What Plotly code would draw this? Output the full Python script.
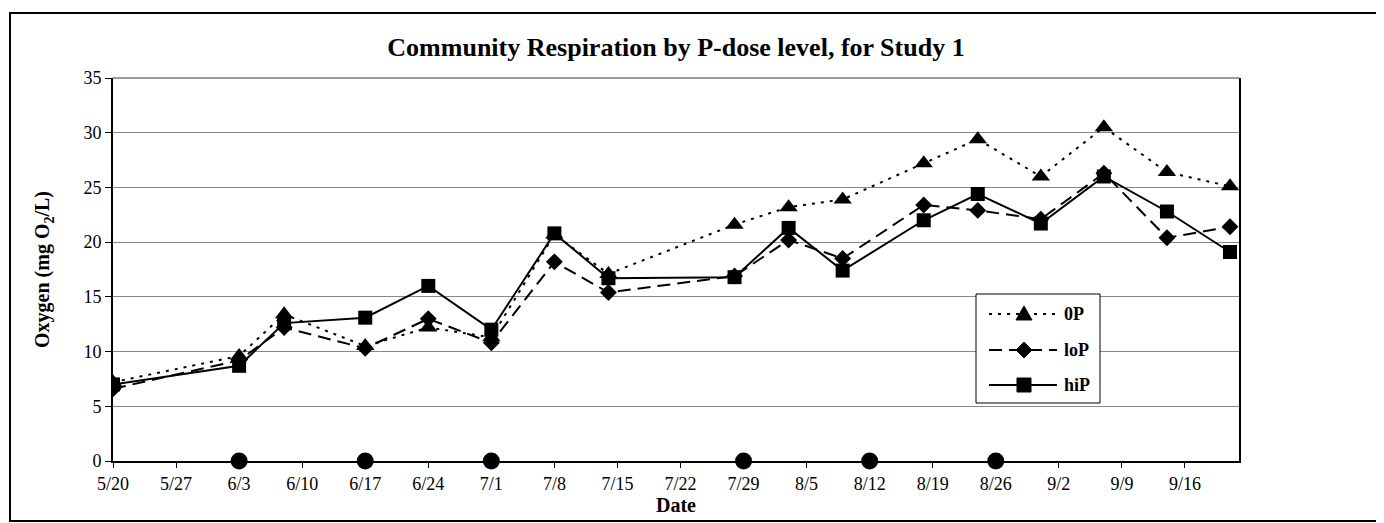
import plotly.graph_objects as go

# ---- data ----
dates = ["2003-05-20", "2003-06-03", "2003-06-08", "2003-06-17", "2003-06-24",
         "2003-07-01", "2003-07-08", "2003-07-14", "2003-07-28", "2003-08-03",
         "2003-08-09", "2003-08-18", "2003-08-24", "2003-08-31", "2003-09-07",
         "2003-09-14", "2003-09-21"]
op_vals = [7.2, 9.6, 13.4, 10.5, 12.2, 11.3, 20.7, 17.1, 21.6, 23.2,
           23.9, 27.2, 29.4, 26.0, 30.5, 26.4, 25.1]
lop_vals = [6.6, 9.2, 12.2, 10.3, 13.0, 10.8, 18.2, 15.4, 16.9, 20.2,
            18.5, 23.4, 22.9, 22.1, 26.3, 20.4, 21.4]
hip_vals = [7.0, 8.7, 12.6, 13.1, 16.0, 12.0, 20.8, 16.7, 16.8, 21.3,
            17.4, 22.0, 24.4, 21.7, 26.0, 22.8, 19.1]
dose_dates = ["2003-06-03", "2003-06-17", "2003-07-01", "2003-07-29",
              "2003-08-12", "2003-08-26"]
dose_vals = [0, 0, 0, 0, 0, 0]
series_names = ["0P", "loP", "hiP"]

title_text = "Community Respiration by P-dose level, for Study 1"
serif = "Liberation Serif, Times New Roman, serif"

OP_DASH = "3px,6px"
LOP_DASH = "13px,7px"

fig = go.Figure()
fig.add_trace(go.Scatter(x=dates, y=op_vals, name=series_names[0], mode="lines+markers",
                         line=dict(color="black", width=2, dash=OP_DASH),
                         marker=dict(symbol="triangle-up", size=16, color="black")))
fig.add_trace(go.Scatter(x=dates, y=lop_vals, name=series_names[1], mode="lines+markers",
                         line=dict(color="black", width=2, dash=LOP_DASH),
                         marker=dict(symbol="diamond", size=13, color="black")))
fig.add_trace(go.Scatter(x=dates, y=hip_vals, name=series_names[2], mode="lines+markers",
                         line=dict(color="black", width=2),
                         marker=dict(symbol="square", size=14, color="black")))
fig.add_trace(go.Scatter(x=dose_dates, y=dose_vals, mode="markers",
                         showlegend=False, cliponaxis=False,
                         marker=dict(symbol="circle", size=17, color="black")))

# page has an 8px body margin, so figure coords = screen coords - 8
OFF = 8
W, H = 1384, 523
L, R, T, B = 113 - OFF, 1239 - OFF, 78 - OFF, 461 - OFF
pw, ph = R - L, B - T


def px(xs):
    return (xs - OFF - L) / pw


def py(ys):
    return (B - (ys - OFF)) / ph


# ---- hand-drawn legend box (Excel style, long line samples) ----
leg_x0, leg_x1, leg_y0, leg_y1 = 976, 1100, 294, 403
row_y = [314, 350, 385]
line_x0, line_x1, mark_x, text_x = 989, 1057, 1024, 1062
shapes = [
    dict(type="rect", xref="paper", yref="paper",
         x0=px(10), x1=px(1377), y0=py(521), y1=py(13),
         line=dict(color="black", width=2), layer="below"),
    dict(type="line", xref="paper", yref="paper",
         x0=0, x1=1, y0=1, y1=1, line=dict(color="#777777", width=1.5)),
    dict(type="rect", xref="paper", yref="paper",
         x0=px(leg_x0), x1=px(leg_x1), y0=py(leg_y1), y1=py(leg_y0),
         line=dict(color="black", width=1), fillcolor="white", layer="above"),
]
dashes = [OP_DASH, LOP_DASH, "solid"]
for yy, dsh in zip(row_y, dashes):
    shapes.append(dict(type="line", xref="paper", yref="paper",
                       x0=px(line_x0), x1=px(line_x1), y0=py(yy), y1=py(yy),
                       line=dict(color="black", width=2, dash=dsh), layer="above"))


def path_pts(pts):
    s = "M " + " L ".join(f"{px(a):.5f},{py(b):.5f}" for a, b in pts) + " Z"
    return s


# triangle, diamond, square symbols
tri = [(mark_x - 8, row_y[0] + 6), (mark_x + 8, row_y[0] + 6), (mark_x, row_y[0] - 8)]
dia = [(mark_x, row_y[1] - 8), (mark_x + 8, row_y[1]), (mark_x, row_y[1] + 8), (mark_x - 8, row_y[1])]
sq = [(mark_x - 7, row_y[2] - 7), (mark_x + 7, row_y[2] - 7), (mark_x + 7, row_y[2] + 7), (mark_x - 7, row_y[2] + 7)]
for pts in (tri, dia, sq):
    shapes.append(dict(type="path", xref="paper", yref="paper", path=path_pts(pts),
                       fillcolor="black", line=dict(color="black", width=1), layer="above"))

annotations = [
    dict(text="<b>" + nm + "</b>", xref="paper", yref="paper", x=px(text_x), y=py(yy),
         xanchor="left", yanchor="middle", showarrow=False,
         font=dict(family=serif, size=18, color="black"))
    for nm, yy in zip(series_names, row_y)
]

fig.update_layout(
    width=W, height=H,
    margin=dict(l=L, r=W - R, t=T, b=H - B),
    paper_bgcolor="white", plot_bgcolor="white",
    font=dict(family=serif, size=18, color="black"),
    title=dict(text="<b>" + title_text + "</b>", x=0.5, xref="paper",
               xanchor="center", y=1 - (47 - OFF) / H, yanchor="middle",
               font=dict(family=serif, size=26, color="black")),
    showlegend=False,
    shapes=shapes,
    annotations=annotations,
)

fig.update_xaxes(
    type="date", range=["2003-05-20", "2003-09-22"],
    tick0="2003-05-20", dtick=7 * 24 * 3600 * 1000, tickformat="%-m/%-d",
    showline=True, linecolor="black", linewidth=2,
    ticks="outside", ticklen=5, tickcolor="black", tickwidth=1,
    showgrid=False, zeroline=False,
    tickfont=dict(family=serif, size=18, color="black"),
    title=dict(text="<b>Date</b>", standoff=0,
               font=dict(family=serif, size=20, color="black")),
)
fig.update_yaxes(
    range=[0, 35], dtick=5, tick0=0,
    showline=True, linecolor="black", linewidth=2, mirror=True,
    ticks="outside", ticklen=6, tickcolor="black", tickwidth=1,
    showgrid=True, gridcolor="#888888", gridwidth=1, zeroline=False,
    tickfont=dict(family=serif, size=18, color="black"),
    title=dict(text="<b>Oxygen (mg O<sub>2</sub>/L)</b>", standoff=28,
               font=dict(family=serif, size=20, color="black")),
)

fig.write_html("out.html")
